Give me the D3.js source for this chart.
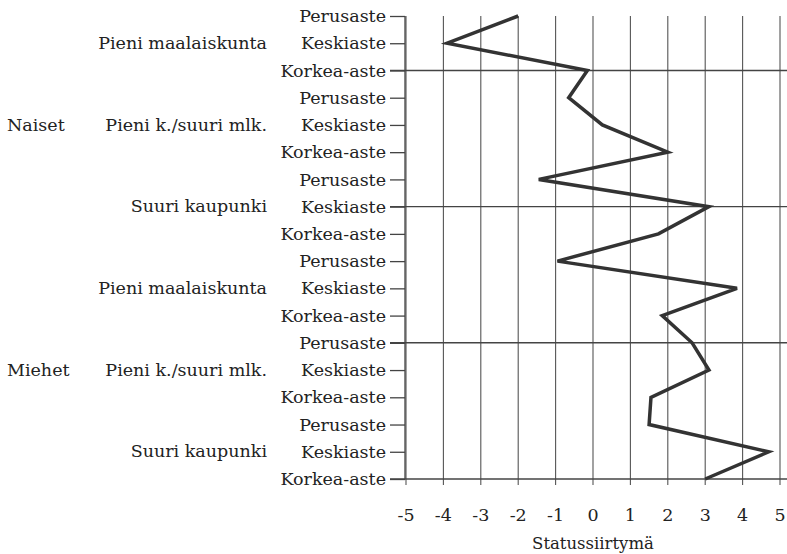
<!DOCTYPE html>
<html>
<head>
<meta charset="utf-8">
<script src="https://d3js.org/d3.v7.min.js"></script>
<style>
  body { margin: 0; background: #fff; }
  svg text { font-family: "DejaVu Serif", serif; fill: #222; }
</style>
</head>
<body>
<svg width="787" height="554"></svg>
<script>
// data
var genders = ["Naiset", "Miehet"];
var areas = ["Pieni maalaiskunta", "Pieni k./suuri mlk.", "Suuri kaupunki"];
var levels = ["Perusaste", "Keskiaste", "Korkea-aste"];
var values = [-2.0, -3.9, -0.15, -0.65, 0.25, 2.0, -1.45, 3.1, 1.75,
              -0.95, 3.85, 1.85, 2.65, 3.1, 1.55, 1.5, 4.7, 3.0];
var xTicks = [-5, -4, -3, -2, -1, 0, 1, 2, 3, 4, 5];
var sepRows = [2, 7, 12, 17];

var rows = [];
genders.forEach(function (g) {
  areas.forEach(function (a) {
    levels.forEach(function (l) {
      rows.push({gender: g, area: a, level: l, value: values[rows.length]});
    });
  });
});
rows.forEach(function (d, i) { d.i = i; });

var svg = d3.select("svg");
var plotLeft = 405, plotRight = 780, plotTop = 16, plotBottom = 479;

var x = d3.scaleLinear().domain([-5, 5]).range([plotLeft + 1, plotRight]);
var y = d3.scalePoint().domain(d3.range(rows.length)).range([plotTop, plotBottom]);

// vertical grid
svg.append("g").selectAll("line")
  .data(xTicks)
  .enter().append("line")
  .attr("x1", function (d) { return x(d); })
  .attr("x2", function (d) { return x(d); })
  .attr("y1", plotTop)
  .attr("y2", plotBottom + 6)
  .attr("stroke", "#555")
  .attr("stroke-width", 1.1);

// horizontal separators
svg.append("g").selectAll("line")
  .data(sepRows)
  .enter().append("line")
  .attr("x1", plotLeft - 15)
  .attr("x2", 787)
  .attr("y1", function (d) { return y(d); })
  .attr("y2", function (d) { return y(d); })
  .attr("stroke", "#444")
  .attr("stroke-width", 1.4);

// y axis
var yAxis = d3.axisLeft(y)
  .tickSize(15)
  .tickPadding(4)
  .tickFormat(function (i) { return rows[i].level; });
var ga = svg.append("g").attr("transform", "translate(" + plotLeft + ",0)").call(yAxis);
ga.attr("font-family", null).attr("font-size", null);
ga.select(".domain").attr("stroke", "#444").attr("stroke-width", 1.3).attr("d", "M0," + plotTop + "V" + plotBottom);
ga.selectAll(".tick line").attr("stroke", "#444").attr("stroke-width", 1.3);
ga.selectAll(".tick text")
  .style("font-size", "17.5px")
  .attr("fill", "#222");

// area labels (middle of each group of three)
svg.append("g").selectAll("text")
  .data(rows.filter(function (d) { return d.level === "Keskiaste"; }))
  .enter().append("text")
  .attr("x", 267)
  .attr("y", function (d) { return y(d.i); })
  .attr("dy", "0.32em")
  .attr("text-anchor", "end")
  .style("font-size", "17.5px")
  .text(function (d) { return d.area; });

// gender labels
svg.append("g").selectAll("text")
  .data(rows.filter(function (d) { return d.area === areas[1] && d.level === "Keskiaste"; }))
  .enter().append("text")
  .attr("x", 7)
  .attr("y", function (d) { return y(d.i); })
  .attr("dy", "0.32em")
  .style("font-size", "17.5px")
  .text(function (d) { return d.gender; });

// x tick labels
svg.append("g").selectAll("text")
  .data(xTicks)
  .enter().append("text")
  .attr("x", function (d) { return x(d); })
  .attr("y", 521)
  .attr("text-anchor", "middle")
  .style("font-size", "17.5px")
  .text(function (d) { return d; });

svg.append("text")
  .attr("x", x(0))
  .attr("y", 549)
  .attr("text-anchor", "middle")
  .style("font-size", "16.5px")
  .text("Statussiirtymä");

// line
var line = d3.line()
  .x(function (d) { return x(d.value); })
  .y(function (d) { return y(d.i); });

svg.append("path")
  .datum(rows)
  .attr("d", line)
  .attr("fill", "none")
  .attr("stroke", "#333")
  .attr("stroke-width", 3.5)
  .attr("stroke-linejoin", "miter");
</script>
</body>
</html>
